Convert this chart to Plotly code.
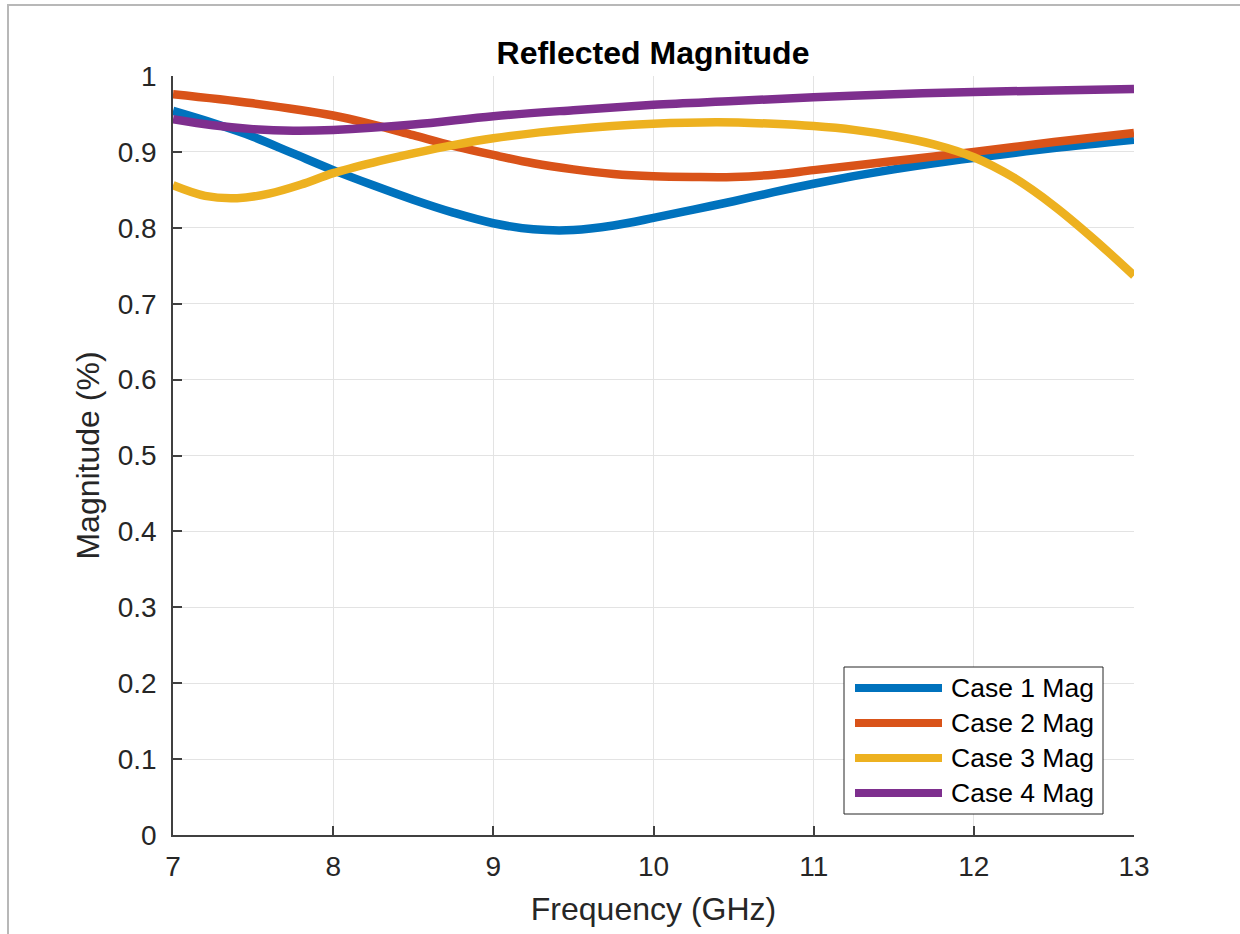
import plotly.graph_objects as go

# ---- data ----
freq_c1 = [7.0, 7.25, 7.5, 7.75, 8.0, 8.25, 8.5, 8.75, 9.0, 9.25, 9.5, 9.75, 10.0,
           10.25, 10.5, 10.75, 11.0, 11.25, 11.5, 11.75, 12.0, 12.5, 13.0]
mag_c1 = [0.954, 0.938, 0.920, 0.898, 0.876, 0.856, 0.837, 0.820, 0.806, 0.798, 0.797,
          0.803, 0.813, 0.824, 0.835, 0.847, 0.858, 0.868, 0.877, 0.885, 0.892, 0.905, 0.916]

freq_c2 = [7.0, 7.5, 8.0, 8.25, 8.5, 8.75, 9.0, 9.25, 9.5, 9.75, 10.0, 10.25, 10.5,
           10.75, 11.0, 11.5, 12.0, 12.5, 13.0]
mag_c2 = [0.976, 0.964, 0.948, 0.936, 0.922, 0.908, 0.896, 0.885, 0.877, 0.871, 0.868,
          0.867, 0.867, 0.870, 0.876, 0.888, 0.900, 0.913, 0.925]

freq_c3 = [7.0, 7.2, 7.4, 7.6, 7.8, 8.0, 8.25, 8.5, 8.75, 9.0, 9.5, 10.0, 10.4, 10.75,
           11.0, 11.25, 11.5, 11.75, 12.0, 12.25, 12.5, 12.75, 13.0]
mag_c3 = [0.856, 0.842, 0.839, 0.845, 0.857, 0.872, 0.886, 0.898, 0.909, 0.918, 0.930,
          0.937, 0.939, 0.937, 0.934, 0.929, 0.921, 0.910, 0.893, 0.866, 0.829, 0.785, 0.737]

freq_c4 = [7.0, 7.25, 7.5, 7.75, 8.0, 8.5, 9.0, 9.5, 10.0, 10.5, 11.0, 11.5, 12.0, 12.5, 13.0]
mag_c4 = [0.943, 0.935, 0.930, 0.928, 0.929, 0.936, 0.947, 0.955, 0.962, 0.967, 0.972,
          0.976, 0.979, 0.981, 0.983]

series_names = ["Case 1 Mag", "Case 2 Mag", "Case 3 Mag", "Case 4 Mag"]
x_ticks = [7, 8, 9, 10, 11, 12, 13]
y_ticks = [0, 0.1, 0.2, 0.3, 0.4, 0.5, 0.6, 0.7, 0.8, 0.9, 1]
y_tick_labels = ["0", "0.1", "0.2", "0.3", "0.4", "0.5", "0.6", "0.7", "0.8", "0.9", "1"]

# ---- styling ----
colors = ["#0072BD", "#D95319", "#EDB120", "#7E2F8E"]
W, H = 1240, 934
L, R, T, B = 173, 106, 76, 99
PW, PH = W - L - R, H - T - B
FONT = "Liberation Sans, Arial, Helvetica, sans-serif"
AX = "#404040"
TXT = "#262626"


def px(xp):
    return (xp - L) / PW


def py(yp):
    return (H - B - yp) / PH


fig = go.Figure()
for xs, ys, name, c in zip([freq_c1, freq_c2, freq_c3, freq_c4],
                           [mag_c1, mag_c2, mag_c3, mag_c4], series_names, colors):
    fig.add_trace(go.Scatter(x=xs, y=ys, name=name, mode="lines",
                             line=dict(color=c, width=8.5, shape="spline", smoothing=1.0),
                             showlegend=False))

shapes = []
annotations = []
# figure frame (gray border of the screenshot)
shapes.append(dict(type="rect", xref="paper", yref="paper",
                   x0=px(8), x1=px(1260), y0=py(960), y1=py(5),
                   line=dict(color="#b8b8b8", width=2), fillcolor="rgba(0,0,0,0)", layer="below"))

# custom legend
lx0, lx1, ly0, ly1 = 844, 1103, 667, 814
shapes.append(dict(type="rect", xref="paper", yref="paper",
                   x0=px(lx0), x1=px(lx1), y0=py(ly1), y1=py(ly0),
                   line=dict(color="#262626", width=1), fillcolor="white", layer="above"))
row_y = [688, 723, 758, 793]
for name, c, ry in zip(series_names, colors, row_y):
    shapes.append(dict(type="line", xref="paper", yref="paper",
                       x0=px(855), x1=px(942), y0=py(ry), y1=py(ry),
                       line=dict(color=c, width=8), layer="above"))
    annotations.append(dict(xref="paper", yref="paper", x=px(949), y=py(ry),
                            xanchor="left", yanchor="middle", showarrow=False,
                            text=name, font=dict(family=FONT, size=26.5, color="#000000")))

fig.update_layout(
    width=W, height=H,
    margin=dict(l=L, r=R, t=T, b=B, autoexpand=False),
    paper_bgcolor="white", plot_bgcolor="white",
    title=dict(text="<b>Reflected Magnitude</b>", xref="container", x=653 / W,
               xanchor="center", yref="container", y=1 - 53 / H, yanchor="middle",
               font=dict(family=FONT, size=32, color="#000000")),
    shapes=shapes, annotations=annotations,
    font=dict(family=FONT),
)
fig.update_xaxes(range=[7, 13], tickvals=x_ticks, ticktext=[str(v) for v in x_ticks],
                 showgrid=True, gridcolor="#e3e3e3", gridwidth=1,
                 showline=True, linecolor=AX, linewidth=1.5, mirror=False,
                 ticks="inside", ticklen=9, tickcolor=AX, tickwidth=1.5,
                 tickfont=dict(family=FONT, size=28, color=TXT),
                 ticklabelstandoff=6,
                 zeroline=False,
                 title=dict(text="Frequency (GHz)", standoff=16,
                            font=dict(family=FONT, size=32, color=TXT)))
fig.update_yaxes(range=[0, 1], tickvals=y_ticks, ticktext=y_tick_labels,
                 showgrid=True, gridcolor="#e3e3e3", gridwidth=1,
                 showline=True, linecolor=AX, linewidth=1.5, mirror=False,
                 ticks="inside", ticklen=9, tickcolor=AX, tickwidth=1.5,
                 tickfont=dict(family=FONT, size=28, color=TXT),
                 ticklabelstandoff=9,
                 zeroline=False,
                 title=dict(text="Magnitude (%)", standoff=9,
                            font=dict(family=FONT, size=32, color=TXT)))

fig.write_html("out.html")
